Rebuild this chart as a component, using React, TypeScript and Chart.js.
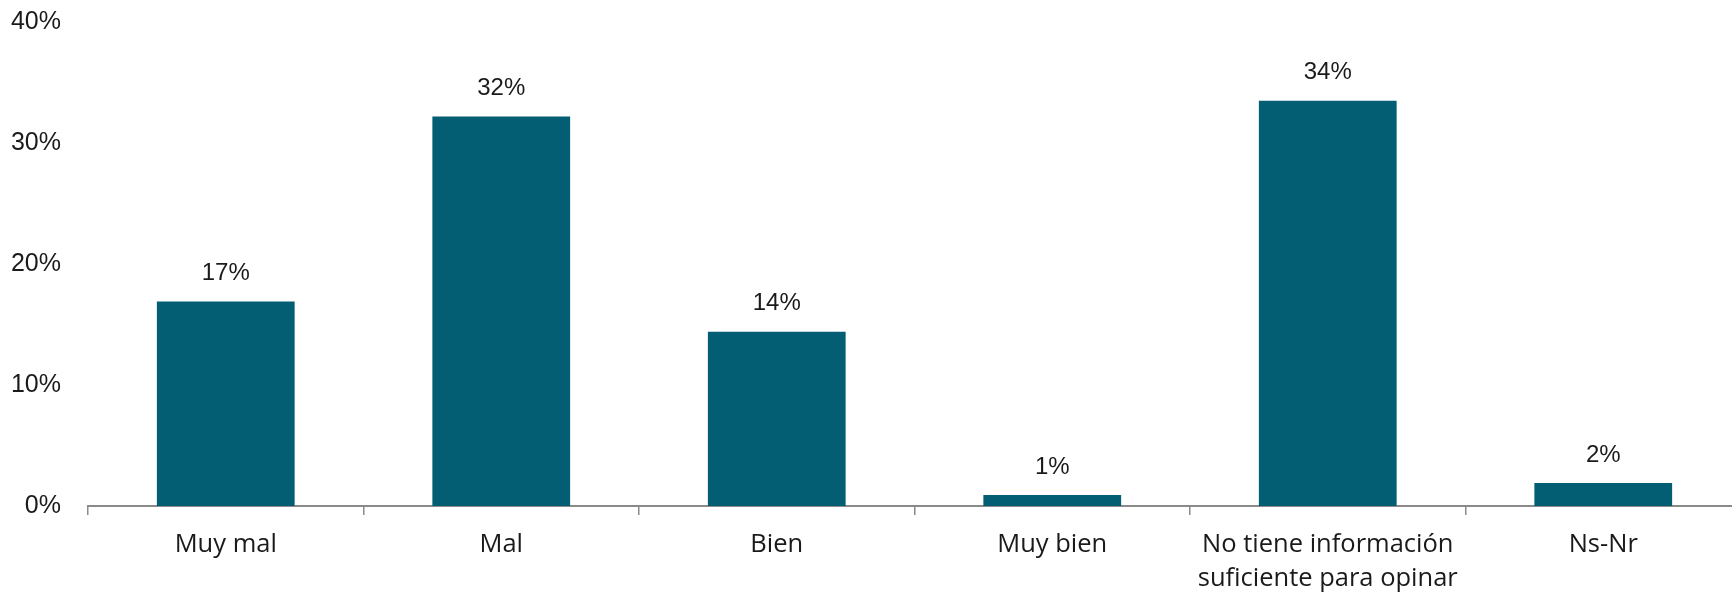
import React, { useEffect, useRef } from "react";
import { Chart, registerables } from "chart.js";

Chart.register(...registerables);

const categories: (string | string[])[] = [
  "Muy mal",
  "Mal",
  "Bien",
  "Muy bien",
  ["No tiene información", "suficiente para opinar"],
  "Ns-Nr",
];
const values: number[] = [16.9, 32.2, 14.4, 0.9, 33.5, 1.9];
const valueLabels: string[] = ["17%", "32%", "14%", "1%", "34%", "2%"];
const yTicks: number[] = [0, 10, 20, 30, 40];

const BAR_COLOR = "#035D73";

const valueLabelPlugin = {
  id: "valueLabels",
  afterDatasetsDraw(chart: any) {
    const ctx = chart.ctx;
    const meta = chart.getDatasetMeta(0);
    ctx.save();
    ctx.font = '24px "Liberation Sans", Arial, sans-serif';
    ctx.fillStyle = "#1a1a1a";
    ctx.textAlign = "center";
    ctx.textBaseline = "middle";
    meta.data.forEach((bar: any, i: number) => {
      ctx.fillText(valueLabels[i], bar.x, bar.y - 28);
    });
    ctx.restore();
  },
};

export default function App() {
  const ref = useRef<HTMLCanvasElement | null>(null);
  useEffect(() => {
    document.body.style.margin = "0";
    document.body.style.overflow = "hidden";
    if (!ref.current) return;
    const chart = new Chart(ref.current, {
      type: "bar",
      data: {
        labels: categories,
        datasets: [
          {
            data: values,
            backgroundColor: BAR_COLOR,
            borderWidth: 0,
            categoryPercentage: 1,
            barPercentage: 0.5,
          },
        ],
      },
      options: {
        responsive: false,
        animation: false,
        layout: { padding: { top: 22, right: 0, bottom: 0, left: 0 } },
        plugins: {
          legend: { display: false },
          tooltip: { enabled: false },
        },
        scales: {
          x: {
            offset: true,
            afterFit(scale: any) {
              scale.height = 87;
              scale.paddingLeft = 0;
              scale.paddingRight = 0;
            },
            grid: {
              display: true,
              offset: true,
              drawOnChartArea: false,
              drawTicks: true,
              tickLength: 9,
              color: "#8a8a8a",
              lineWidth: 1.5,
            },
            border: { display: true, color: "#8a8a8a", width: 2 },
            ticks: {
              color: "#1a1a1a",
              font: { family: '"Open Sans", sans-serif', size: 25.5, lineHeight: 1.33 },
              padding: 13,
              maxRotation: 0,
              autoSkip: false,
            },
          },
          y: {
            min: 0,
            max: 40,
            afterFit(scale: any) {
              scale.width = 88;
              scale.paddingTop = 0;
              scale.paddingBottom = 0;
            },
            afterBuildTicks(scale: any) {
              scale.ticks = yTicks.map((v) => ({ value: v }));
            },
            grid: { display: false },
            border: { display: false },
            ticks: {
              color: "#1a1a1a",
              font: { family: '"Liberation Sans", Arial, sans-serif', size: 25 },
              padding: 19,
              callback: (v: any) => `${v}%`,
            },
          },
        },
      },
      plugins: [valueLabelPlugin],
    });
    return () => chart.destroy();
  }, []);
  return (
    <div style={{ position: "fixed", left: 0, top: 0, width: 1741, height: 593 }}>
      <canvas ref={ref} width={1741} height={593} style={{ width: 1741, height: 593 }} />
    </div>
  );
}
